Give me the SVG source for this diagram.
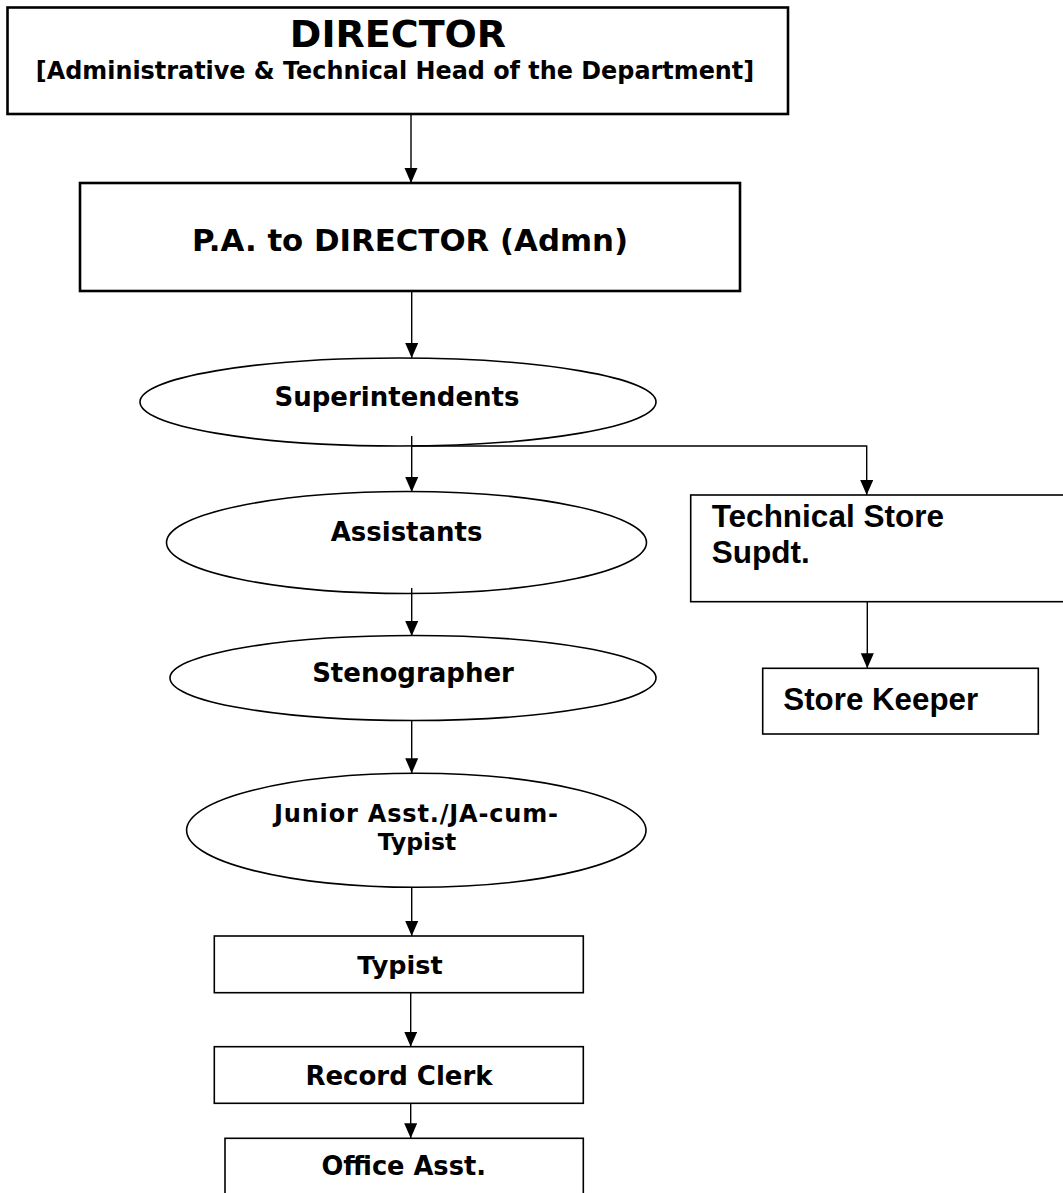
<svg xmlns="http://www.w3.org/2000/svg" width="1063" height="1193" viewBox="0 0 1063 1193">
  <style>
    .box { fill: #fff; stroke: #000; stroke-width: 1.6; }
    .thick { stroke-width: 2.6; }
    .ell { fill: #fff; stroke: #000; stroke-width: 1.6; }
    .v { font-family: "DejaVu Sans", Verdana, sans-serif; font-weight: bold; fill: #000; text-anchor: middle; }
    .a { font-family: "Liberation Sans", Arial, sans-serif; font-weight: bold; fill: #000; }
    .conn { fill: none; stroke: #000; stroke-width: 1.4; marker-end: url(#arr); }
  </style>
  <defs>
    <marker id="arr" markerUnits="userSpaceOnUse" markerWidth="16" markerHeight="14" refX="15" refY="6.5" orient="auto">
      <path d="M0,0 L15,6.5 L0,13 z" fill="#000"/>
    </marker>
  </defs>
  <rect width="1063" height="1193" fill="#fff"/>

  <g id="director">
    <rect class="box thick" x="7.5" y="7.5" width="780.5" height="106.5"/>
    <text class="v" x="398" y="46.5" font-size="38">DIRECTOR</text>
    <text class="v" x="395" y="79" font-size="23.9">[Administrative &amp; Technical Head of the Department]</text>
  </g>

  <g id="pa-director">
    <rect class="box thick" x="80" y="183" width="660" height="108"/>
    <text class="v" x="410" y="251" font-size="30.8">P.A. to DIRECTOR (Admn)</text>
  </g>

  <g id="superintendents">
    <ellipse class="ell" cx="398" cy="402" rx="258" ry="44"/>
    <text class="v" x="397" y="406" font-size="26">Superintendents</text>
  </g>

  <g id="assistants">
    <ellipse class="ell" cx="406.5" cy="542.5" rx="240" ry="51"/>
    <text class="v" x="406.6" y="541" font-size="26">Assistants</text>
  </g>

  <g id="stenographer">
    <ellipse class="ell" cx="413" cy="678" rx="243" ry="42.5"/>
    <text class="v" x="413" y="681.5" font-size="26">Stenographer</text>
  </g>

  <g id="junior-asst">
    <ellipse class="ell" cx="416.3" cy="830.3" rx="229.7" ry="57"/>
    <text class="v" x="416" y="821.5" font-size="24" textLength="284" lengthAdjust="spacing">Junior Asst./JA-cum-</text>
    <text class="v" x="417" y="850" font-size="23.5">Typist</text>
  </g>

  <g id="typist">
    <rect class="box" x="214.3" y="936" width="369" height="56.7"/>
    <text class="v" x="400" y="974" font-size="25.5">Typist</text>
  </g>

  <g id="record-clerk">
    <rect class="box" x="214.3" y="1046.7" width="369" height="56.6"/>
    <text class="v" x="399" y="1085" font-size="26">Record Clerk</text>
  </g>

  <g id="office-asst">
    <rect class="box" x="225" y="1138.3" width="358.3" height="70"/>
    <text class="v" x="403.7" y="1175" font-size="25.7">Office Asst.</text>
  </g>

  <g id="technical-store-supdt">
    <rect class="box" x="690.7" y="495" width="380" height="106.7"/>
    <text class="a" x="711.7" y="527" font-size="31.5">Technical Store</text>
    <text class="a" x="711.7" y="563" font-size="31.5">Supdt.</text>
  </g>

  <g id="store-keeper">
    <rect class="box" x="762.7" y="668.3" width="275.6" height="65.7"/>
    <text class="a" x="783.3" y="710" font-size="31.3">Store Keeper</text>
  </g>

  <g id="connectors">
    <path class="conn" d="M411,114 V183"/>
    <path class="conn" d="M411.7,291 V358"/>
    <path class="conn" d="M411.7,436 V492"/>
    <path class="conn" d="M411.7,446 H866.7 V495"/>
    <path class="conn" d="M411.7,588 V636"/>
    <path class="conn" d="M411.7,720 V773.3"/>
    <path class="conn" d="M411.7,887 V936"/>
    <path class="conn" d="M410.7,993 V1046.7"/>
    <path class="conn" d="M410.7,1103.3 V1138.3"/>
    <path class="conn" d="M867.3,601.7 V668.3"/>
  </g>
</svg>
